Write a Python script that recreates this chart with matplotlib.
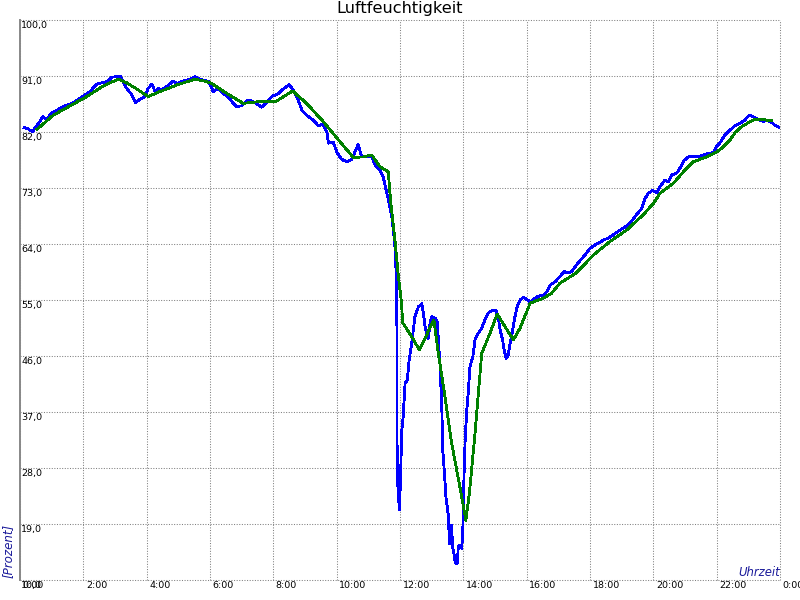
import matplotlib
matplotlib.use("Agg")
import matplotlib.pyplot as plt
from matplotlib.transforms import offset_copy

# ---- data (time in hours, relative humidity in %) ----
blue_hours = [0.13, 0.26, 0.40, 0.47, 0.63, 0.72, 0.84, 1.00, 1.16, 1.37, 1.68, 2.00, 2.21, 2.42,
              2.74, 2.90, 3.16, 3.21, 3.37, 3.53, 3.65, 3.79, 3.92, 4.05, 4.16, 4.26, 4.37, 4.47,
              4.63, 4.84, 4.95, 5.16, 5.37, 5.53, 5.68, 5.95, 5.99, 6.10, 6.26, 6.42, 6.58, 6.74,
              6.84, 7.00, 7.16, 7.26, 7.42, 7.63, 7.79, 7.95, 8.16, 8.31, 8.50, 8.63, 8.79, 8.90,
              9.05, 9.26, 9.42, 9.56, 9.69, 9.74, 9.89, 10.02, 10.16, 10.32, 10.47, 10.58, 10.68,
              10.79, 10.95, 11.11, 11.21, 11.31, 11.39, 11.47, 11.56, 11.66, 11.74, 11.79, 11.84,
              11.87, 11.90, 11.905, 11.91, 11.98, 12.02, 12.05, 12.10, 12.16, 12.23, 12.29, 12.37,
              12.47, 12.58, 12.69, 12.74, 12.79, 12.89, 12.95, 13.00, 13.11, 13.18, 13.21, 13.26,
              13.32, 13.35, 13.39, 13.45, 13.53, 13.56, 13.61, 13.63, 13.66, 13.70, 13.75, 13.81,
              13.84, 13.89, 13.95, 13.98, 14.00, 14.02, 14.06, 14.11, 14.16, 14.21, 14.30, 14.37,
              14.47, 14.58, 14.68, 14.79, 14.90, 15.03, 15.10, 15.16, 15.24, 15.28, 15.35, 15.42,
              15.47, 15.56, 15.63, 15.70, 15.79, 15.89, 16.00, 16.11, 16.26, 16.37, 16.53, 16.63,
              16.74, 16.89, 17.05, 17.18, 17.31, 17.42, 17.53, 17.68, 17.84, 18.00, 18.21, 18.42,
              18.63, 18.79, 19.00, 19.16, 19.32, 19.47, 19.63, 19.74, 19.84, 19.98, 20.11, 20.21,
              20.37, 20.47, 20.58, 20.74, 20.84, 20.97, 21.10, 21.26, 21.47, 21.68, 21.89, 21.99,
              22.11, 22.26, 22.42, 22.58, 22.74, 22.89, 23.00, 23.07, 23.16, 23.31, 23.47, 23.58,
              23.74, 23.84, 23.98]
blue_values = [82.7, 82.5, 82.0, 82.6, 83.7, 84.5, 84.0, 85.1, 85.5, 86.1, 86.7, 87.8, 88.5, 89.7,
               90.1, 90.8, 91.0, 90.6, 89.0, 88.0, 86.7, 87.3, 87.6, 89.0, 89.7, 88.6, 89.0, 88.75,
               89.3, 90.2, 89.8, 90.2, 90.5, 90.9, 90.5, 90.1, 89.8, 88.5, 89.0, 88.2, 87.6, 86.6,
               86.1, 86.2, 87.0, 87.1, 86.7, 86.0, 86.7, 87.7, 88.2, 88.9, 89.6, 88.75, 87.1, 85.5,
               84.7, 83.9, 83.0, 83.3, 82.0, 80.2, 80.4, 78.6, 77.6, 77.2, 77.6, 78.8, 80.0,
               78.0, 78.1, 78.0, 76.7, 76.2, 75.6, 74.8, 72.7, 70.5, 68.4, 66.25, 63.6,
               60.35, 57.7, 44.8, 27.1, 21.25, 26.6, 33.6, 36.2, 41.6, 42.1, 45.4, 48.0,
               52.3, 53.9, 54.4, 52.9, 50.7, 48.8, 51.3, 52.3, 52.1, 51.5, 48.6, 44.8,
               37.85, 30.9, 28.2, 23.4, 20.2, 15.9, 15.9, 18.8, 15.35, 14.3, 12.7, 12.7,
               15.35, 15.6, 15.1, 17.5, 20.7, 26.6, 33.0, 37.3, 40.5, 44.3, 45.9, 48.6,
               49.65, 50.45, 51.8, 52.9, 53.3, 53.4, 52.3, 50.2, 48.6, 47.2, 45.6, 46.2,
               47.8, 50.2, 52.3, 53.9, 55.0, 55.4, 55.1, 54.7, 55.3, 55.6, 55.8, 56.3,
               57.4, 57.9, 58.75, 59.55, 59.4, 59.55, 60.35, 61.3, 62.2, 63.3, 64.0, 64.6,
               65.1, 65.7, 66.4, 66.9, 67.7, 68.7, 69.7, 71.3, 72.15, 72.6, 72.2, 73.2,
               74.3, 74.0, 75.1, 75.4, 76.2, 77.4, 78.0, 78.0, 78.1, 78.5, 78.7, 79.6,
               80.3, 81.5, 82.3, 83.0, 83.4, 83.9, 84.6, 84.7, 84.4, 84.0, 83.7, 83.9,
               83.5, 83.1, 82.75]

green_hours = [0.53, 1.05, 2.11, 2.63, 3.10, 3.37, 3.69, 4.05, 4.42, 4.95, 5.53, 5.90, 6.05, 6.53,
               7.05, 7.58, 8.08, 8.61, 9.05, 9.58, 10.11, 10.53, 10.84, 11.11, 11.37, 11.63, 11.70,
               11.84, 11.95, 12.05, 12.08, 12.37, 12.61, 12.84, 13.07, 13.21, 13.42, 13.63, 13.89,
               14.08, 14.19, 14.37, 14.58, 14.84, 15.07, 15.32, 15.58, 15.79, 16.11, 16.53, 16.79,
               17.05, 17.58, 18.10, 18.63, 19.16, 19.68, 20.00, 20.21, 20.63, 20.95, 21.26, 21.68,
               22.00, 22.21, 22.42, 22.58, 22.79, 23.05, 23.21, 23.47, 23.74]
green_values = [82.4, 84.7, 87.7, 89.4, 90.5, 89.9, 88.9, 87.7, 88.5, 89.55, 90.5, 90.1, 89.8, 88.2,
                86.6, 86.9, 86.9, 88.6, 86.6, 83.65, 80.4, 77.9, 78.0, 78.3, 76.4, 75.6, 71.1,
                64.6, 58.75, 54.5, 51.4, 49.1, 47.0, 49.4, 51.8, 46.4, 39.5, 32.0, 25.0,
                19.6, 23.9, 33.6, 46.4, 49.65, 52.75, 50.7, 48.6, 50.45, 54.5, 55.3, 56.1,
                57.7, 59.4, 62.2, 64.4, 66.25, 68.7, 70.5, 72.15, 73.75, 75.6, 77.2, 78.0,
                78.8, 79.6, 80.7, 81.9, 82.85, 83.65, 84.0, 84.0, 83.8]

x_ticks = [0, 2, 4, 6, 8, 10, 12, 14, 16, 18, 20, 22, 24]
x_tick_labels = ["0:00", "2:00", "4:00", "6:00", "8:00", "10:00", "12:00", "14:00",
                 "16:00", "18:00", "20:00", "22:00", "0:00"]
y_ticks = [10, 19, 28, 37, 46, 55, 64, 73, 82, 91, 100]
y_tick_labels = ["10,0", "19,0", "28,0", "37,0", "46,0", "55,0", "64,0", "73,0",
                 "82,0", "91,0", "100,0"]

title = "Luftfeuchtigkeit"
x_label = "Uhrzeit"
y_label = "[Prozent]"

# ---- figure ----
fig = plt.figure(figsize=(8, 6), dpi=100)
fig.patch.set_facecolor("white")
ax = fig.add_axes([20 / 800, 20 / 600, 760 / 800, 560 / 600])
ax.set_facecolor("white")

ax.plot(blue_hours, blue_values, color="#0000ff", lw=1.3, antialiased=False, zorder=3)
ax.plot(green_hours, green_values, color="#008000", lw=1.3, antialiased=False, zorder=4)

ax.set_xlim(0, 24)
ax.set_ylim(10, 100)
ax.set_xticks(x_ticks)
ax.set_yticks(y_ticks)
ax.set_xticklabels([])
ax.set_yticklabels([])
ax.tick_params(length=0)

ax.grid(True, color="#808080", lw=0.75, linestyle=(0, (1, 1.5)))
for gl in ax.get_xgridlines() + ax.get_ygridlines():
    gl.set_clip_on(False)

for s in ("top", "right", "bottom"):
    ax.spines[s].set_visible(False)
ax.spines["left"].set_color("#888888")
ax.spines["left"].set_linewidth(1.4)
ax.spines["left"].set_zorder(5)

lab_font = dict(fontsize=6.8, color="black", family="DejaVu Sans")
ytrans = offset_copy(ax.get_yaxis_transform(), fig=fig, x=1, y=-1, units="dots")
for v, lab in zip(y_ticks, y_tick_labels):
    ax.text(0, v, lab, transform=ytrans, ha="left", va="top", clip_on=False, **lab_font)
xtrans = offset_copy(ax.get_xaxis_transform(), fig=fig, x=2.5, y=-1, units="dots")
for h, lab in zip(x_ticks, x_tick_labels):
    ax.text(h, 0, lab, transform=xtrans, ha="left", va="top", clip_on=False, **lab_font)

fig.text(0.5, 1 - 9 / 600, title, ha="center", va="center", fontsize=11.6, color="black")

ax.text(1.0, 0.0, x_label, transform=offset_copy(ax.transAxes, fig=fig, x=0, y=1, units="dots"),
        ha="right", va="bottom", fontsize=8.4, style="italic", color="#1a1a9a")
fig.text(8 / 800, 22 / 600, y_label, rotation=90, ha="center", va="bottom",
         fontsize=8.6, style="italic", color="#1a1a9a")

fig.savefig("out.png", dpi=100, facecolor="white")
